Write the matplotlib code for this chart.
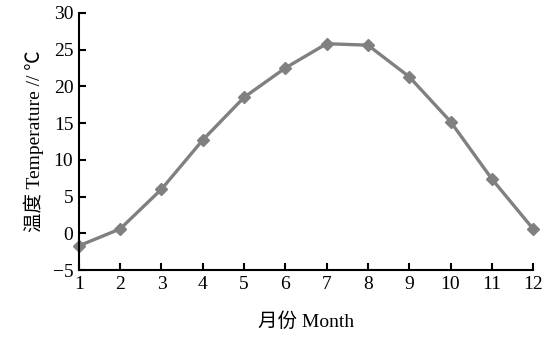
import matplotlib
matplotlib.use('Agg')
import matplotlib.pyplot as plt

months = [1, 2, 3, 4, 5, 6, 7, 8, 9, 10, 11, 12]
temperature = [-1.7, 0.6, 6.0, 12.7, 18.5, 22.5, 25.8, 25.6, 21.3, 15.2, 7.4, 0.6]

plt.rcParams['font.family'] = ['Liberation Serif', 'Noto Sans CJK SC']
plt.rcParams['axes.unicode_minus'] = True

fig = plt.figure(figsize=(5.44, 3.38), dpi=100)
ax = fig.add_axes([0.145, 0.201, 0.835, 0.761])
ax.plot(months, temperature, color='#808080', linewidth=2.4,
        marker='D', markersize=6.5, markerfacecolor='#808080', markeredgecolor='#808080',
        clip_on=False)

ax.set_xlim(1, 12)
ax.set_ylim(-5, 30)
ax.set_xticks(months)
ax.set_yticks(range(-5, 31, 5))
ax.spines['top'].set_visible(False)
ax.spines['right'].set_visible(False)
for s in ['left', 'bottom']:
    ax.spines[s].set_linewidth(1.5)
ax.tick_params(direction='in', length=5, width=1.5, labelsize=14, pad=4)
ax.set_xlabel('月份 Month', fontsize=14, labelpad=14)
ax.set_ylabel('温度 Temperature // \u2103', fontsize=14, labelpad=6)

plt.savefig('out.png', dpi=100)
